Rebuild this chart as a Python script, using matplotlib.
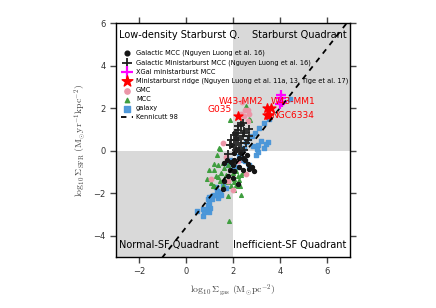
import matplotlib
matplotlib.use("Agg")
import matplotlib.pyplot as plt
import numpy as np

# Galactic MCC (dots)
mcc_dot_x = [2.05, 1.91, 2.27, 2.41, 2.6, 2.63, 2.7, 2.27, 1.98, 2.05, 1.62, 2.41, 1.77, 1.98,
             1.62, 2.02, 1.74, 1.91, 2.12, 2.34, 2.5, 1.85, 2.2, 1.55, 2.9, 2.8]
mcc_dot_y = [-0.11, -0.55, -0.34, -0.34, -0.23, -0.61, -0.86, -0.77, -0.66, -0.97, -0.58, -0.89,
             -1.2, -1.28, -1.44, -0.42, -0.42, 0.28, 0.05, -0.1, -0.45, -0.9, -1.55, -1.8, -0.95, -0.75]
# Galactic ministarburst MCC (crosses)
msb_x = [2.34, 2.2, 2.48, 2.05, 2.41, 2.63, 2.12, 1.91, 2.34, 2.55, 2.05, 2.27, 2.48, 2.7,
         2.2, 1.88, 2.12, 2.27, 1.77, 2.2, 2.41, 2.12, 2.48, 2.7]
msb_y = [1.22, 0.99, 0.91, 0.75, 0.67, 0.52, 0.52, 0.52, 0.36, 0.36, 0.28, 0.13, 0.05, 0.67,
         0.6, 0.28, 0.05, -0.03, -0.14, 1.14, 1.3, 0.83, 0.83, 1.02]
# XGal ministarburst MCC
xgal_x = [4.06, 4.05, 4.1, 4.0]
xgal_y = [2.63, 2.47, 2.31, 2.2]
# ministarburst ridges
ridge_x = [2.2, 3.44, 3.6, 3.45, 3.55]
ridge_y = [1.64, 2.0, 2.0, 1.69, 1.69]
ridge_names = ["G035", "W43-MM2", "W43-MM1", "NGC6334"]
# GMC
gmc_x = [2.37, 2.63, 2.48, 2.34, 2.52, 2.7, 2.63, 1.55, 1.05, 1.98, 1.77, 2.2, 2.55, 1.7]
gmc_y = [2.31, 1.92, 1.61, 1.72, 1.89, 1.72, 1.38, 0.36, -1.33, -1.83, -1.44, -0.5, -1.1, -0.3]
# MCC
mcc_x = [1.41, 1.17, 1.34, 1.55, 1.62, 1.77, 1.17, 1.48, 1.7, 1.34, 1.98, 2.12, 2.2, 2.02,
         2.27, 1.8, 1.91, 2.12, 2.31, 2.34, 2.41, 1.55, 2.02, 1.62, 1.05, 1.45, 0.98, 1.27,
         1.14, 1.45, 1.84, 1.88, 2.74, 2.55, 2.67, 1.18, 2.04, 2.2, 2.34, 1.77, 0.9, 1.3]
mcc_y = [0.13, -0.61, -0.66, -0.58, -0.81, -0.7, -0.92, -1.05, -1.13, -1.23, -1.05, -0.97,
         -1.2, -1.33, -1.36, -1.49, -1.68, -1.6, -1.68, -1.13, -1.05, -1.68, -1.83, -1.33,
         -1.52, 0.08, -0.89, -1.2, -1.68, -1.44, -3.32, 1.42, 1.46, 2.08, 1.5, -1.68, -1.5,
         -1.68, -2.07, -2.14, -1.35, -0.2]
# galaxies
gal_x = [4.44, 3.55, 3.31, 3.13, 2.94, 2.81, 3.2, 3.5, 3.41, 3.34, 3.08, 2.84, 3.03, 2.98,
         3.05, 2.7, 2.55, 2.45, 2.34, 2.27, 2.41, 2.51, 2.7, 2.2, 2.06, 1.88, 1.8,
         1.55, 1.7, 1.45, 1.31, 1.19, 1.08, 0.98, 0.91, 1.12, 0.98, 0.91, 1.02, 0.91, 0.76,
         0.7, 0.98, 1.37, 1.48, 1.27, 0.7, 0.48, 1.34]
gal_y = [2.43, 1.49, 1.3, 1.07, 0.83, 0.7, 0.47, 0.39, 0.33, 0.13, 0.28, 0.2, 0.08, -0.23,
         -0.08, 0.6, 0.39, 0.13, -0.03, -0.27, -0.42, -0.5, -0.66, -0.77, -0.77, -0.42, -0.66,
         -1.68, -1.75, -1.96, -1.91, -2.07, -2.14, -2.18, -2.27, -2.3, -2.46, -2.58, -2.69,
         -2.8, -2.9, -3.08, -2.9, -2.22, -2.07, -1.7, -2.77, -2.85, -2.14]

plt.rcParams['mathtext.fontset'] = 'cm'
fig = plt.figure(figsize=(4.36, 3.08), dpi=100)
ax = fig.add_axes([0.266, 0.166, 0.537, 0.759])

ax.fill_between([2, 7], 0, 6, color='#d9d9d9', lw=0, zorder=0)
ax.fill_between([-3, 2], -5, 0, color='#d9d9d9', lw=0, zorder=0)

ax.scatter(gal_x, gal_y, marker='s', s=11, color='#4a96d8', alpha=0.95, label='galaxy', zorder=2)
ax.scatter(mcc_x, mcc_y, marker='^', s=7, color='#3f9e3f', label='MCC', zorder=3)
ax.scatter(gmc_x, gmc_y, marker='o', s=10, color='#eb96a8', label='GMC', zorder=3)
ax.scatter(mcc_dot_x, mcc_dot_y, marker='o', s=8, color='#151515',
           label='Galactic MCC (Nguyen Luong et al. 16)', zorder=4)
ax.scatter(msb_x, msb_y, marker='+', s=40, linewidths=1.3, color='#202020',
           label='Galactic Ministarburst MCC (Nguyen Luong et al. 16)', zorder=4)
ax.scatter(xgal_x, xgal_y, marker='+', s=45, linewidths=1.6, color='#ff00ff',
           label='XGal ministarburst MCC', zorder=5)
ax.scatter(ridge_x, ridge_y, marker='*', s=45, color='red',
           label='Ministarburst ridge (Nguyen Luong et al. 11a, 13, Tige et al. 17)', zorder=6)

kx = np.array([-3, 7])
ax.plot(kx, 1.4 * kx - 3.6, 'k--', lw=1.3, dashes=(3, 3), label='Kennicutt 98', zorder=7)

tk = dict(color='red', fontsize=6.5, zorder=8)
ax.text(1.95, 1.7, ridge_names[0], ha='right', va='bottom', **tk)
ax.text(3.3, 2.1, ridge_names[1], ha='right', va='bottom', **tk)
ax.text(3.62, 2.1, ridge_names[2], ha='left', va='bottom', **tk)
ax.text(3.62, 1.45, ridge_names[3], ha='left', va='bottom', **tk)

ax.text(-2.85, 5.45, 'Low-density Starburst Q.', fontsize=7, va='center')
ax.text(6.85, 5.45, 'Starburst Quadrant', fontsize=7, va='center', ha='right')
ax.text(-2.85, -4.45, 'Normal-SF Quadrant', fontsize=7, va='center')
ax.text(6.85, -4.45, 'Inefficient-SF Quadrant', fontsize=7, va='center', ha='right')

handles, labels = ax.get_legend_handles_labels()
order = [3, 4, 5, 6, 2, 1, 0, 7]
ax.legend([handles[i] for i in order], [labels[i] for i in order], loc='upper left',
          bbox_to_anchor=(0.0, 0.905), frameon=False, fontsize=4.8, labelspacing=0.45,
          handlelength=1.9, handletextpad=0.4, borderaxespad=0.3, markerscale=1.2)

ax.set_xlim(-3, 7)
ax.set_ylim(-5, 6)
ax.set_xticks([-2, 0, 2, 4, 6])
ax.set_yticks([-4, -2, 0, 2, 4, 6])
ax.tick_params(direction='out', top=True, right=True, labeltop=False, labelright=False,
               labelsize=6, colors='#444444', length=4, width=1)
ax.tick_params(labelcolor='#333333')
for s in ax.spines.values():
    s.set_linewidth(1)
ax.set_xlabel(r'$\log_{10}\Sigma_{\rm gas}\ ({\rm M_{\odot}pc^{-2}})$', fontsize=7, color='#444444')
ax.set_ylabel(r'$\log_{10}\Sigma_{\rm SFR}\ ({\rm M_{\odot}yr^{-1}kpc^{-2}})$', fontsize=7, color='#444444')

fig.savefig('out.png', dpi=100)
